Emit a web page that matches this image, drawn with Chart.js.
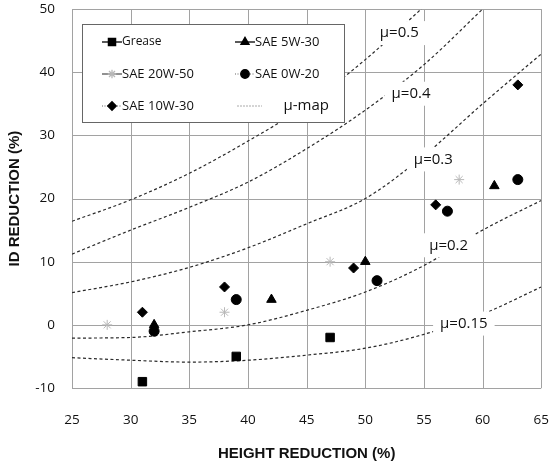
<!DOCTYPE html>
<html>
<head>
<meta charset="utf-8">
<script src="https://cdn.jsdelivr.net/npm/chart.js"></script>
<style>
  html, body { margin: 0; padding: 0; background: #fff; }
</style>
</head>
<body>
<canvas id="chart" width="550" height="465"></canvas>
<script>
// measured points: height reduction (%) -> ID reduction (%)
const greaseX = [31, 39, 47];
const greaseY = [-9, -5, -2];
const sae5w30X = [32, 42, 50, 61];
const sae5w30Y = [0, 4, 10, 22];
const sae20w50X = [28, 38, 47, 58];
const sae20w50Y = [0, 2, 10, 23];
const sae0w20X = [32, 39, 51, 57, 63];
const sae0w20Y = [-1, 4, 7, 18, 23];
const sae10w30X = [31, 38, 49, 56, 63];
const sae10w30Y = [2, 6, 9, 19, 38];

// friction map (mu) curves
const muX = [25, 30, 35, 40, 45, 50, 55, 60, 65];
const mu050 = [16.4, 19.8, 24.0, 29.1, 34.8, 42.0, 50.4, null, null];
const mu040 = [11.2, 15.0, 18.6, 22.6, 27.9, 34.0, 41.2, 50.0, null];
const mu030 = [5.1, 6.8, 9.1, 12.2, 16.0, 20.0, 26.8, 35.0, 42.9];
const mu020 = [-2.1, -2.0, -1.1, 0.0, 2.3, 5.2, 9.4, 15.0, 19.7];
const mu015 = [-5.2, -5.6, -5.9, -5.6, -4.8, -3.7, -1.5, 1.7, 6.0];
const muNames = ['μ=0.5', 'μ=0.4', 'μ=0.3', 'μ=0.2', 'μ=0.15'];
const muLabelX = [52.9, 53.9, 55.8, 57.1, 58.4];
const muLabelY = [46.2, 36.6, 26.2, 12.6, 0.2];

const xTicks = [25, 30, 35, 40, 45, 50, 55, 60, 65];
const yTicks = [-10, 0, 10, 20, 30, 40, 50];

const pts = (xs, ys) => xs.map((x, i) => ({ x: x, y: ys[i] })).filter(p => p.y !== null);

const marker = (label, xs, ys, style, r, color) => ({
  label: label,
  data: pts(xs, ys),
  pointStyle: style,
  pointRadius: r,
  pointHoverRadius: r,
  backgroundColor: color,
  borderColor: color,
  pointBorderWidth: 1,
  showLine: false
});

const curve = (label, ys) => ({
  label: label,
  data: pts(muX, ys),
  showLine: true,
  pointRadius: 0,
  borderColor: '#2a2a2a',
  borderWidth: 1.2,
  borderDash: [3, 2.5],
  cubicInterpolationMode: 'monotone',
  fill: false
});

const datasets = [
  marker('Grease', greaseX, greaseY, 'rect', 6, '#000'),
  marker('SAE 5W-30', sae5w30X, sae5w30Y, 'triangle', 5.5, '#000'),
  marker('SAE 20W-50', sae20w50X, sae20w50Y, 'star', 5, '#b8b8b8'),
  marker('SAE 0W-20', sae0w20X, sae0w20Y, 'circle', 5, '#000'),
  marker('SAE 10W-30', sae10w30X, sae10w30Y, 'rectRot', 5, '#000'),
  curve('μ-map', mu050),
  curve('μ=0.4', mu040),
  curve('μ=0.3', mu030),
  curve('μ=0.2', mu020),
  curve('μ=0.15', mu015)
];

// labels on the mu curves, white boxes like the original
const muLabels = {
  id: 'muLabels',
  afterDatasetsDraw(chart) {
    const { ctx, scales: { x, y } } = chart;
    ctx.save();
    ctx.font = '15px "Open Sans"';
    ctx.textAlign = 'center';
    ctx.textBaseline = 'middle';
    muNames.forEach((t, i) => {
      const px = x.getPixelForValue(muLabelX[i]);
      const py = y.getPixelForValue(muLabelY[i]);
      const w = ctx.measureText(t).width + 14;
      ctx.fillStyle = '#fff';
      ctx.fillRect(px - w / 2, py - 12, w, 24);
      ctx.fillStyle = '#111';
      ctx.fillText(t, px, py);
    });
    ctx.restore();
  }
};

// legend sample: [col, row, line colour, line dash]
const legendLayout = [
  [0, 0, '#000', []],
  [1, 0, '#000', []],
  [0, 1, '#555', []],
  [1, 1, '#999', [1, 1.5]],
  [0, 2, '#999', [1, 1.5]],
  [1, 2, '#aaa', [2, 1]]
];

const boxLegend = {
  id: 'boxLegend',
  afterDraw(chart) {
    const ctx = chart.ctx;
    const area = chart.chartArea;
    const bx = Math.round(area.left + 10), by = Math.round(area.top + 15), bw = 262, bh = 98;
    ctx.save();
    ctx.fillStyle = '#fff';
    ctx.fillRect(bx, by, bw, bh);
    ctx.strokeStyle = '#666';
    ctx.lineWidth = 1;
    ctx.strokeRect(bx + 0.5, by + 0.5, bw, bh);
    ctx.textBaseline = 'middle';
    datasets.slice(0, 6).forEach((ds, i) => {
      const [col, row, lc, dash] = legendLayout[i];
      const lx = bx + (col ? 153 : 20);
      const ly = by + 18 + row * 32;
      const isMap = i === 5;
      ctx.strokeStyle = lc;
      ctx.lineWidth = isMap ? 1 : 1.3;
      ctx.setLineDash(dash);
      ctx.beginPath();
      ctx.moveTo(lx + (isMap ? 2 : 0), ly);
      ctx.lineTo(lx + (isMap ? 27 : 20), ly);
      ctx.stroke();
      ctx.setLineDash([]);
      if (!isMap) {
        ctx.fillStyle = ds.backgroundColor;
        ctx.strokeStyle = ds.borderColor;
        Chart.helpers.drawPoint(ctx, {
          pointStyle: ds.pointStyle,
          radius: ds.pointRadius * 0.85,
          borderWidth: 1,
          rotation: 0
        }, lx + 10, ly);
      }
      ctx.fillStyle = '#111';
      if (isMap) {
        ctx.font = '15px "Open Sans"';
        ctx.textAlign = 'right';
        ctx.fillText(ds.label, bx + 247, ly);
      } else {
        ctx.font = (i === 0 ? '12px' : '13px') + ' "Open Sans"';
        ctx.textAlign = 'left';
        ctx.fillText(ds.label, lx + 20, ly);
      }
    });
    ctx.restore();
  }
};

// grid at the tick values, painted underneath what is already drawn
const dottedGrid = {
  id: 'dottedGrid',
  afterDraw(chart) {
    const { ctx, chartArea: a, scales: { x, y } } = chart;
    ctx.save();
    ctx.globalCompositeOperation = 'destination-over';
    ctx.strokeStyle = '#a2a2a2';
    ctx.lineWidth = 1;
    ctx.beginPath();
    xTicks.forEach(v => {
      const px = Math.round(x.getPixelForValue(v)) + 0.5;
      ctx.moveTo(px, a.top);
      ctx.lineTo(px, a.bottom);
    });
    yTicks.forEach(v => {
      const py = Math.round(y.getPixelForValue(v)) + 0.5;
      ctx.moveTo(a.left, py);
      ctx.lineTo(a.right, py);
    });
    ctx.stroke();
    ctx.restore();
  }
};

const gridOpts = (len) => ({
  display: false,
  drawTicks: true,
  tickLength: len
});

const ctx = document.getElementById('chart').getContext('2d');

new Chart(ctx, {
  type: 'scatter',
  data: { datasets: datasets },
  options: {
    responsive: false,
    animation: false,
    layout: { padding: { top: 8, right: 8, left: 0, bottom: 0 } },
    plugins: {
      legend: { display: false },
      tooltip: { enabled: false }
    },
    scales: {
      x: {
        type: 'linear',
        min: 25,
        max: 65,
        afterBuildTicks: s => { s.ticks = xTicks.map(v => ({ value: v })); },
        afterFit: s => { s.height = 77; },
        grid: gridOpts(23),
        border: { display: false },
        ticks: { padding: 1, color: '#111', font: { family: 'Open Sans', size: 13.5 } },
        title: {
          display: true,
          text: 'HEIGHT REDUCTION (%)',
          color: '#111',
          font: { family: 'Liberation Sans', size: 15, weight: 'bold' },
          padding: { top: 0, bottom: 2 }
        }
      },
      y: {
        type: 'linear',
        min: -10,
        max: 50,
        afterBuildTicks: s => { s.ticks = yTicks.map(v => ({ value: v })); },
        afterFit: s => { s.width = 72; },
        grid: gridOpts(16),
        border: { display: false },
        ticks: { padding: 1, color: '#111', font: { family: 'Open Sans', size: 13.5 } },
        title: {
          display: true,
          text: 'ID REDUCTION (%)',
          color: '#111',
          font: { family: 'Liberation Sans', size: 15, weight: 'bold' },
          padding: { top: 6, bottom: 0 }
        }
      }
    }
  },
  plugins: [muLabels, boxLegend, dottedGrid]
});
</script>
</body>
</html>
